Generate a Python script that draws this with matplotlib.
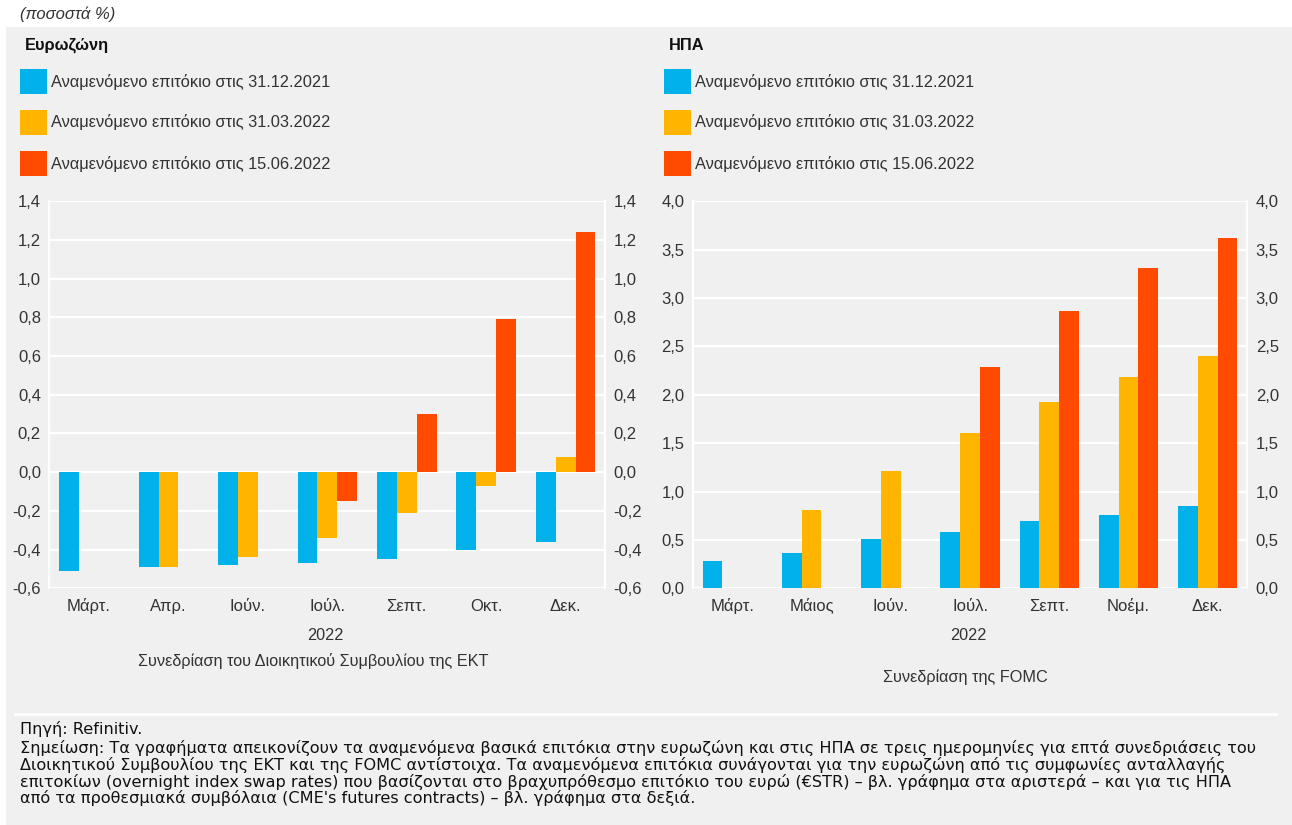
import numpy as np
import matplotlib
matplotlib.use("Agg")
import matplotlib.pyplot as plt
from matplotlib.patches import Rectangle

plt.rcParams['font.family'] = ['Liberation Sans', 'DejaVu Sans']

# ---------------- data ----------------
series_names = ["Αναμενόμενο επιτόκιο στις 31.12.2021",
                "Αναμενόμενο επιτόκιο στις 31.03.2022",
                "Αναμενόμενο επιτόκιο στις 15.06.2022"]
colors = ["#00b1ea", "#ffb400", "#ff4b00"]

ea_cats = ["Μάρτ.", "Απρ.", "Ιούν.", "Ιούλ.", "Σεπτ.", "Οκτ.", "Δεκ."]
ea_2021 = [-0.51, -0.49, -0.48, -0.47, -0.45, -0.40, -0.36]
ea_0322 = [np.nan, -0.49, -0.44, -0.34, -0.21, -0.07, 0.08]
ea_0622 = [np.nan, np.nan, np.nan, -0.15, 0.30, 0.79, 1.24]
ea_ticks = [-0.6, -0.4, -0.2, 0.0, 0.2, 0.4, 0.6, 0.8, 1.0, 1.2, 1.4]
ea_ticklabels = ["-0,6", "-0,4", "-0,2", "0,0", "0,2", "0,4", "0,6", "0,8", "1,0", "1,2", "1,4"]

us_cats = ["Μάρτ.", "Μάιος", "Ιούν.", "Ιούλ.", "Σεπτ.", "Νοέμ.", "Δεκ."]
us_2021 = [0.28, 0.37, 0.51, 0.58, 0.70, 0.76, 0.85]
us_0322 = [np.nan, 0.81, 1.21, 1.60, 1.93, 2.18, 2.40]
us_0622 = [np.nan, np.nan, np.nan, 2.29, 2.87, 3.31, 3.62]
us_ticks = [0.0, 0.5, 1.0, 1.5, 2.0, 2.5, 3.0, 3.5, 4.0]
us_ticklabels = ["0,0", "0,5", "1,0", "1,5", "2,0", "2,5", "3,0", "3,5", "4,0"]

# ---------------- figure ----------------
W, H = 1292, 825
fig = plt.figure(figsize=(W / 100, H / 100), dpi=100)
fig.patch.set_facecolor("white")

BG = "#f0f0f0"
TXT = "#333333"
FS = 12

def fx(px):
    return px / W

def fy(py):
    return 1 - py / H

# gray panel
fig.patches.append(Rectangle((fx(6), 0), 1 - fx(6), fy(27), transform=fig.transFigure,
                             facecolor=BG, edgecolor="none", zorder=-10))
# white separator line
fig.add_artist(plt.Line2D([fx(15), fx(1276)], [fy(714), fy(714)], transform=fig.transFigure,
                          color="white", lw=2, zorder=1))

fig.text(fx(20), fy(14), "(ποσοστά %)", fontsize=FS, style="italic", color=TXT,
         ha="left", va="center")

def panel(x0, x1, title, cats, vals, ticks, ticklabels, ylim, sub_x, sub_y, subtitle):
    top, bot = 201.3, 588.3
    ax = fig.add_axes([fx(x0), fy(bot), fx(x1) - fx(x0), (bot - top) / H])
    ax.set_facecolor(BG)
    x = np.arange(len(cats))
    width = 0.25
    for i, (v, c) in enumerate(zip(vals, colors)):
        v = np.array(v, dtype=float)
        m = ~np.isnan(v)
        ax.bar(x[m] + (i - 1) * width, v[m], width=width, color=c, zorder=3, linewidth=0)
    ax.set_xlim(-0.5, len(cats) - 0.5)
    ax.set_ylim(*ylim)
    ax.set_yticks(ticks)
    ax.set_yticklabels(ticklabels)
    ax.yaxis.grid(True, color="white", lw=1.6, zorder=1)
    ax.set_axisbelow(True)
    for s in ["top", "bottom"]:
        ax.spines[s].set_visible(False)
    for s in ["left", "right"]:
        ax.spines[s].set_color("white")
        ax.spines[s].set_linewidth(1.6)
    ax.set_xticks(x)
    ax.set_xticklabels(cats, va="baseline")
    ax.tick_params(axis="x", length=0, pad=16, labelsize=FS, labelcolor=TXT)
    ax.tick_params(axis="y", length=0, pad=6, labelsize=FS, labelcolor=TXT)
    ax2 = ax.twinx()
    ax2.set_ylim(*ylim)
    ax2.set_yticks(ticks)
    ax2.set_yticklabels(ticklabels)
    ax2.tick_params(axis="y", length=0, pad=6, labelsize=FS, labelcolor=TXT)
    for s in ax2.spines.values():
        s.set_visible(False)

    # title and legend
    lx = x0 - 29
    fig.text(fx(lx + 5), fy(45), title, fontsize=11.8, fontweight="bold", color="#111111",
             ha="left", va="center")
    for i, (name, c) in enumerate(zip(series_names, colors)):
        yc = 81.5 + i * 41
        fig.patches.append(Rectangle((fx(lx), fy(yc + 12.5)), 27 / W, 25 / H,
                                     transform=fig.transFigure, facecolor=c,
                                     edgecolor="none", zorder=2))
        fig.text(fx(lx + 31), fy(yc), name, fontsize=11.8, color=TXT, ha="left", va="center")

    cx = (x0 + x1) / 2
    fig.text(fx(cx - 2), fy(636), "2022", fontsize=11.7, color=TXT, ha="center", va="center")
    fig.text(fx(sub_x), fy(sub_y), subtitle, fontsize=11.7, color=TXT, ha="center", va="center")
    return ax

panel(49.3, 605.3, "Ευρωζώνη", ea_cats, [ea_2021, ea_0322, ea_0622],
      ea_ticks, ea_ticklabels, (-0.6, 1.4), 313, 661,
      "Συνεδρίαση του Διοικητικού Συμβουλίου της ΕΚΤ")
panel(692.7, 1247.3, "ΗΠΑ", us_cats, [us_2021, us_0322, us_0622],
      us_ticks, us_ticklabels, (0.0, 4.0), 965, 677, "Συνεδρίαση της FOMC")

notes = [
    "Πηγή: Refinitiv.",
    "Σημείωση: Τα γραφήματα απεικονίζουν τα αναμενόμενα βασικά επιτόκια στην ευρωζώνη και στις ΗΠΑ σε τρεις ημερομηνίες για επτά συνεδριάσεις του",
    "Διοικητικού Συμβουλίου της ΕΚΤ και της FOMC αντίστοιχα. Τα αναμενόμενα επιτόκια συνάγονται για την ευρωζώνη από τις συμφωνίες ανταλλαγής",
    "επιτοκίων (overnight index swap rates) που βασίζονται στο βραχυπρόθεσμο επιτόκιο του ευρώ (€STR) – βλ. γράφημα στα αριστερά – και για τις ΗΠΑ",
    "από τα προθεσμιακά συμβόλαια (CME's futures contracts) – βλ. γράφημα στα δεξιά.",
]
note_y = [729, 748, 765, 782, 798]
for t, yy in zip(notes, note_y):
    fig.text(fx(20), fy(yy), t, fontsize=11.6, color="#111111", ha="left", va="center",
             family=["DejaVu Sans"])

fig.savefig("out.png", dpi=100, facecolor=fig.get_facecolor())
